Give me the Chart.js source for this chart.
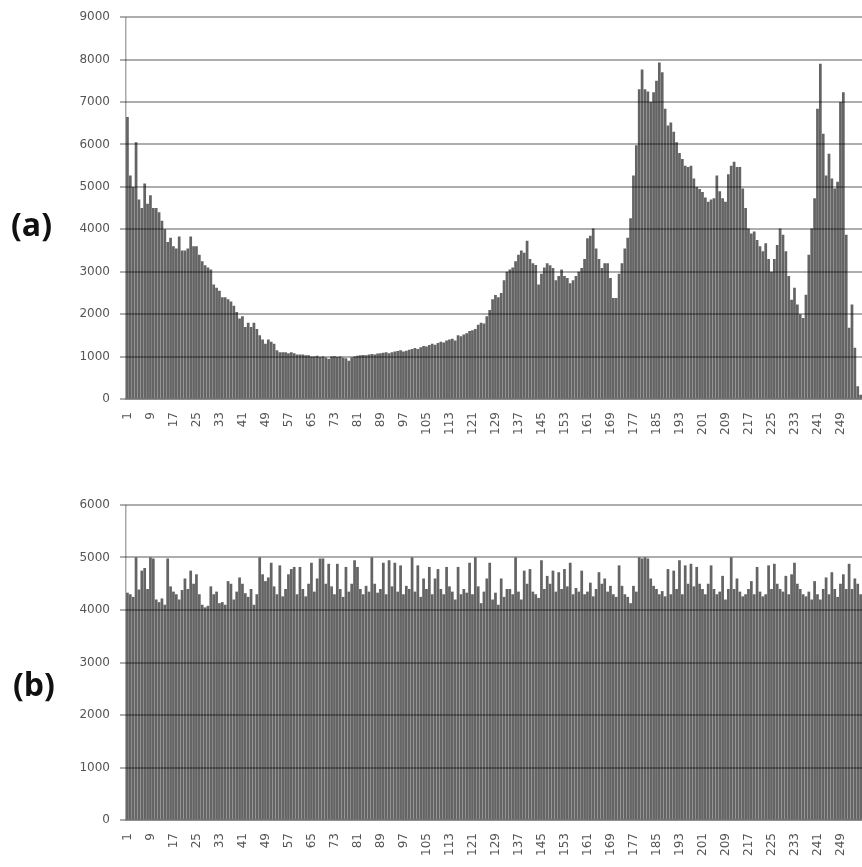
<!DOCTYPE html>
<html>
<head>
<meta charset="utf-8">
<script src="https://cdn.jsdelivr.net/npm/chart.js@4.4.1/dist/chart.umd.min.js"></script>
<style>
html, body { margin:0; padding:0; background:#fff; overflow:hidden; width:862px; height:867px; }
#wrapA { position:absolute; left:0; top:0; width:888px; height:445px; }
#wrapB { position:absolute; left:0; top:470px; width:888px; height:397px; }
.tag { position:absolute; font-family:"Open Sans", sans-serif; font-weight:700; font-size:32px; color:#111; line-height:1; }
</style>
</head>
<body>
<div id="wrapA"><canvas id="chartA" width="888" height="445"></canvas></div>
<div id="wrapB"><canvas id="chartB" width="888" height="397"></canvas></div>
<div class="tag" style="left:11px; top:208px">(a)</div>
<div class="tag" style="left:13px; top:668px">(b)</div>
<script>
// bins 1..256
const bins = Array.from({ length: 256 }, (_, i) => String(i + 1));
const tickLabels = ['1','9','17','25','33','41','49','57','65','73','81','89','97','105','113','121',
  '129','137','145','153','161','169','177','185','193','201','209','217','225','233','241','249'];

// (a) original histogram
const histA = [
  6650,5270,5000,6050,4700,4500,5080,4600,4800,4500,
  4500,4400,4200,4000,3700,3800,3600,3550,3830,3500,
  3500,3550,3830,3600,3600,3400,3250,3150,3100,3050,
  2700,2620,2550,2400,2400,2350,2300,2200,2050,1900,
  1950,1700,1800,1700,1800,1650,1500,1400,1300,1400,
  1350,1300,1150,1100,1100,1100,1080,1100,1080,1050,
  1050,1050,1030,1030,1000,1000,1020,990,1000,980,
  950,1000,1010,990,1000,970,960,900,980,1000,
  1020,1030,1040,1030,1050,1060,1050,1070,1080,1090,
  1100,1080,1100,1120,1130,1150,1120,1140,1160,1180,
  1200,1180,1220,1250,1240,1270,1300,1280,1320,1350,
  1330,1380,1400,1420,1380,1500,1480,1520,1550,1600,
  1620,1650,1750,1800,1780,1950,2100,2350,2450,2400,
  2500,2800,3000,3050,3100,3250,3400,3500,3450,3730,
  3300,3200,3160,2700,2950,3100,3200,3150,3090,2800,
  2900,3050,2900,2850,2730,2800,2900,3000,3090,3300,
  3790,3850,4020,3550,3300,3090,3200,3200,2850,2380,
  2380,2950,3200,3550,3800,4260,5270,5980,7300,7770,
  7300,7250,7000,7230,7500,7930,7700,6840,6450,6520,
  6300,6050,5800,5660,5500,5470,5500,5200,5000,4950,
  4880,4750,4650,4700,4730,5270,4900,4730,4650,5300,
  5500,5590,5470,5470,4960,4500,4020,3900,3950,3750,
  3600,3480,3670,3300,3000,3300,3630,4020,3870,3480,
  2900,2340,2620,2230,2000,1910,2460,3400,4020,4730,
  6840,7900,6250,5270,5780,5200,4960,5120,7000,7230,
  3870,1680,2230,1210,300,100
];

// (b) equalized histogram
const histB = [
  4330,4300,4250,5000,4390,4750,4800,4400,5000,4980,
  4200,4150,4220,4100,4980,4450,4350,4300,4200,4380,
  4600,4400,4750,4500,4680,4300,4100,4050,4080,4450,
  4300,4350,4130,4150,4100,4550,4500,4200,4350,4620,
  4500,4320,4250,4400,4100,4300,5000,4680,4550,4620,
  4900,4450,4300,4850,4260,4400,4680,4780,4820,4300,
  4820,4400,4260,4500,4900,4350,4600,4980,4980,4500,
  4880,4450,4300,4880,4400,4250,4820,4350,4500,4950,
  4820,4400,4300,4460,4350,5000,4500,4330,4400,4900,
  4300,4950,4450,4900,4350,4850,4300,4460,4400,5000,
  4350,4850,4250,4600,4400,4820,4300,4600,4780,4400,
  4300,4820,4450,4350,4200,4820,4300,4400,4330,4900,
  4300,5000,4450,4130,4350,4600,4900,4200,4330,4100,
  4600,4250,4400,4400,4300,5000,4350,4200,4750,4500,
  4780,4350,4300,4230,4950,4400,4650,4500,4750,4350,
  4720,4400,4780,4450,4900,4300,4420,4350,4750,4300,
  4350,4520,4260,4400,4720,4500,4600,4350,4460,4300,
  4250,4850,4460,4300,4250,4130,4460,4350,5000,4980,
  5000,4980,4600,4460,4400,4300,4360,4260,4780,4300,
  4750,4400,4950,4300,4850,4500,4880,4450,4820,4500,
  4400,4300,4500,4850,4400,4300,4350,4650,4200,4400,
  5000,4400,4600,4350,4260,4300,4400,4550,4300,4820,
  4350,4260,4300,4850,4400,4880,4500,4400,4350,4650,
  4300,4680,4900,4500,4400,4300,4260,4350,4200,4550,
  4300,4200,4400,4620,4300,4720,4400,4250,4500,4680,
  4400,4880,4400,4600,4500,4300
];

function makeChart(id, values, yMax, padTop, xHeight) {
  new Chart(document.getElementById(id), {
    type: 'bar',
    data: {
      labels: bins,
      datasets: [{
        data: values,
        backgroundColor: '#646464',
        borderWidth: 0,
        barPercentage: 0.95,
        categoryPercentage: 1.0
      }]
    },
    options: {
      responsive: false,
      animation: false,
      layout: { padding: { top: padTop, left: 0, right: 0, bottom: 0 } },
      plugins: { legend: { display: false }, tooltip: { enabled: false } },
      scales: {
        x: {
          // only the first line (left edge of the plot) is shown, as the value axis line
          grid: {
            display: true,
            drawTicks: false,
            lineWidth: 1.5,
            color: ctx => ctx.index === 0 ? '#aaaaaa' : 'rgba(0,0,0,0)'
          },
          border: { display: true, color: '#aaaaaa', width: 1.5 },
          ticks: {
            autoSkip: false,
            maxRotation: 90,
            minRotation: 90,
            padding: 13,
            color: '#555',
            font: { family: 'DejaVu Sans', size: 12 },
            callback: function (v) {
              const l = this.getLabelForValue(v);
              return tickLabels.includes(l) ? l : '';
            }
          },
          afterFit: function (s) { s.height = xHeight; }
        },
        y: {
          min: 0,
          max: yMax,
          grid: { color: 'rgba(0,0,0,0.32)', lineWidth: 2, tickLength: 6, z: 1 },
          border: { display: false },
          ticks: {
            stepSize: 1000,
            padding: 10,
            color: '#555',
            font: { family: 'DejaVu Sans', size: 12 },
            callback: v => String(v)
          },
          afterFit: function (s) { s.width = 126; }
        }
      }
    }
  });
}

makeChart('chartA', histA, 9000, 15, 46);
makeChart('chartB', histB, 6000, 35, 47);
</script>
</body>
</html>
